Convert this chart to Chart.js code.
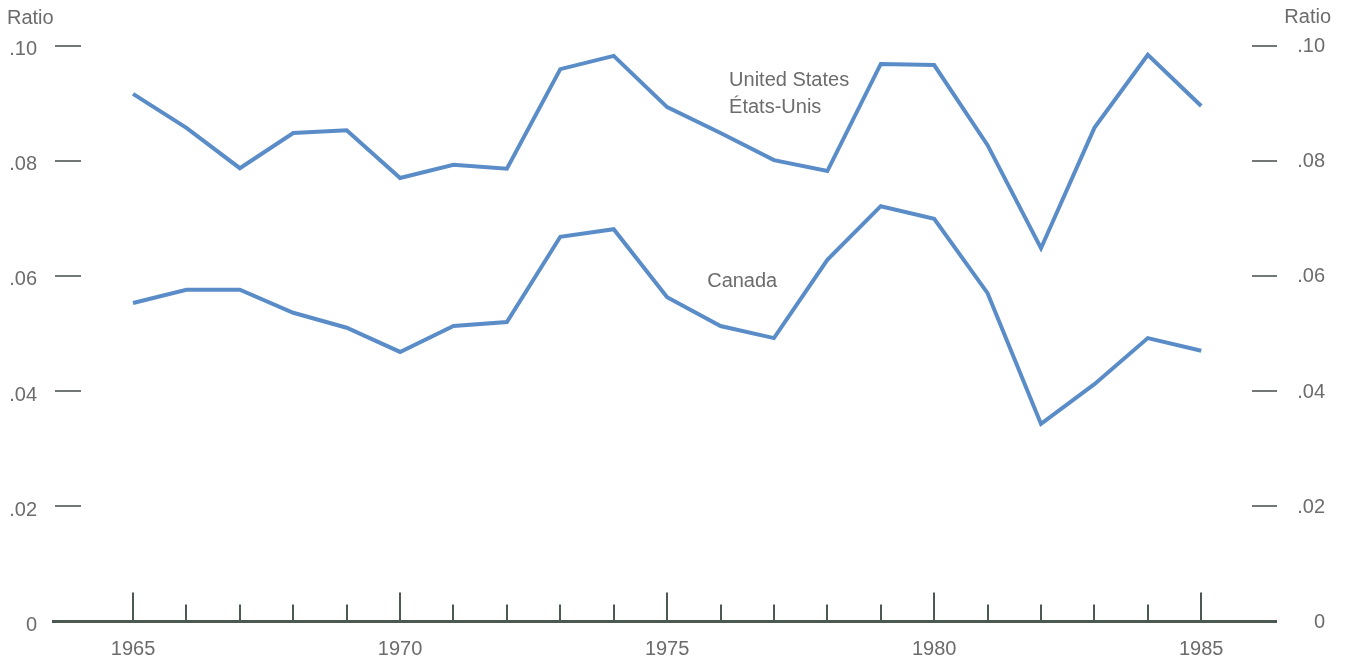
<!DOCTYPE html>
<html><head><meta charset="utf-8">
<script src="https://cdn.jsdelivr.net/npm/chart.js@4"></script>
<style>html,body{margin:0;padding:0;background:#fff}#wrap{width:1350px;height:663px;position:relative}</style>
</head><body><div id="wrap"><canvas id="c"></canvas></div>
<script>
const years = [1965,1966,1967,1968,1969,1970,1971,1972,1973,1974,1975,1976,1977,1978,1979,1980,1981,1982,1983,1984,1985];
const unitedStates = [0.0916,0.0857,0.0787,0.0848,0.0853,0.0770,0.0793,0.0786,0.0959,0.0982,0.0893,0.0848,0.0801,0.0782,0.0968,0.0966,0.0827,0.0648,0.0857,0.0984,0.0895];
const canada = [0.0553,0.0576,0.0576,0.0536,0.0510,0.0468,0.0513,0.0520,0.0668,0.0681,0.0563,0.0513,0.0492,0.0628,0.0721,0.0699,0.0570,0.0343,0.0412,0.0492,0.0470];
const yTicks = [0,0.02,0.04,0.06,0.08,0.10];
const yTickLabels = ['0','.02','.04','.06','.08','.10'];
const xLabelYears = [1965,1970,1975,1980,1985];
const axisTitle = 'Ratio';
const usLabel = ['United States','États-Unis'];
const canadaLabel = 'Canada';

const FONT = "'Liberation Sans', Arial, Helvetica, sans-serif";
const TEXT = '#6c6c6c';
const LINE = '#5a8dc8';
const AXIS = '#4b5950';

const decor = {
  id: 'decor',
  beforeDatasetsDraw(chart) {
    const {ctx, chartArea: ca, scales: {x, y}} = chart;
    ctx.save();
    const y0 = y.getPixelForValue(0);
    ctx.strokeStyle = AXIS;
    ctx.lineWidth = 3;
    ctx.beginPath(); ctx.moveTo(ca.left, y0); ctx.lineTo(ca.right + 1, y0); ctx.stroke();
    ctx.lineWidth = 2;
    years.forEach(yr => {
      const px = Math.round(x.getPixelForValue(yr));
      const len = yr % 5 === 0 ? 29 : 17;
      ctx.beginPath(); ctx.moveTo(px, y0); ctx.lineTo(px, y0 - len); ctx.stroke();
    });
    ctx.strokeStyle = '#727878';
    ctx.lineWidth = 2;
    yTicks.forEach(v => {
      if (v === 0) return;
      const py = Math.round(y.getPixelForValue(v));
      ctx.beginPath(); ctx.moveTo(ca.left + 3, py); ctx.lineTo(ca.left + 29, py); ctx.stroke();
      ctx.beginPath(); ctx.moveTo(ca.right - 24, py); ctx.lineTo(ca.right + 1, py); ctx.stroke();
    });
    ctx.fillStyle = TEXT;
    ctx.font = '20px ' + FONT;
    ctx.textBaseline = 'alphabetic';
    ctx.textAlign = 'left';
    ctx.fillText(axisTitle, 7, 24);
    ctx.textAlign = 'right';
    ctx.fillText(axisTitle, 1331, 23);
    ctx.textAlign = 'left';
    const ux = x.getPixelForValue(1976.16);
    ctx.fillText(usLabel[0], ux, y.getPixelForValue(0.0930));
    ctx.fillText(usLabel[1], ux, y.getPixelForValue(0.0882));
    ctx.fillText(canadaLabel, x.getPixelForValue(1975.75), y.getPixelForValue(0.0580));
    ctx.restore();
  }
};

new Chart(document.getElementById('c'), {
  type: 'line',
  data: {
    datasets: [
      { label: 'United States', data: years.map((yr, i) => ({x: yr, y: unitedStates[i]})), borderColor: LINE, borderWidth: 4, pointRadius: 0, tension: 0, fill: false, borderJoinStyle: 'miter' },
      { label: 'Canada', data: years.map((yr, i) => ({x: yr, y: canada[i]})), borderColor: LINE, borderWidth: 4, pointRadius: 0, tension: 0, fill: false, borderJoinStyle: 'miter' }
    ]
  },
  options: {
    responsive: true,
    maintainAspectRatio: false,
    animation: false,
    devicePixelRatio: 1,
    layout: { padding: { top: 45.5, right: 25, bottom: 0, left: 0 } },
    plugins: { legend: { display: false }, tooltip: { enabled: false } },
    scales: {
      x: {
        type: 'linear', min: 1963.483, max: 1986.4,
        grid: { display: false, drawTicks: false }, border: { display: false },
        afterBuildTicks: s => { s.ticks = xLabelYears.map(v => ({value: v})); },
        ticks: { font: { family: FONT, size: 20 }, color: TEXT, padding: 16, maxRotation: 0, autoSkip: false, callback: v => String(v) },
        afterFit: s => { s.height = 41.5; }
      },
      y: {
        position: 'left', min: 0, max: 0.1,
        grid: { display: false, drawTicks: false }, border: { display: false },
        afterBuildTicks: s => { s.ticks = yTicks.map(v => ({value: v})); },
        ticks: { font: { family: FONT, size: 20 }, color: TEXT, padding: 15, labelOffset: 4, callback: (v, i) => yTickLabels[i] },
        afterFit: s => { s.width = 52; }
      },
      y2: {
        position: 'right', min: 0, max: 0.1, display: true,
        grid: { display: false, drawTicks: false }, border: { display: false },
        afterBuildTicks: s => { s.ticks = yTicks.map(v => ({value: v})); },
        ticks: { font: { family: FONT, size: 20 }, color: TEXT, padding: 10, crossAlign: 'far', labelOffset: 1, callback: (v, i) => yTickLabels[i] },
        afterFit: s => { s.width = 49; }
      }
    }
  },
  plugins: [decor]
});
</script>
</body></html>
